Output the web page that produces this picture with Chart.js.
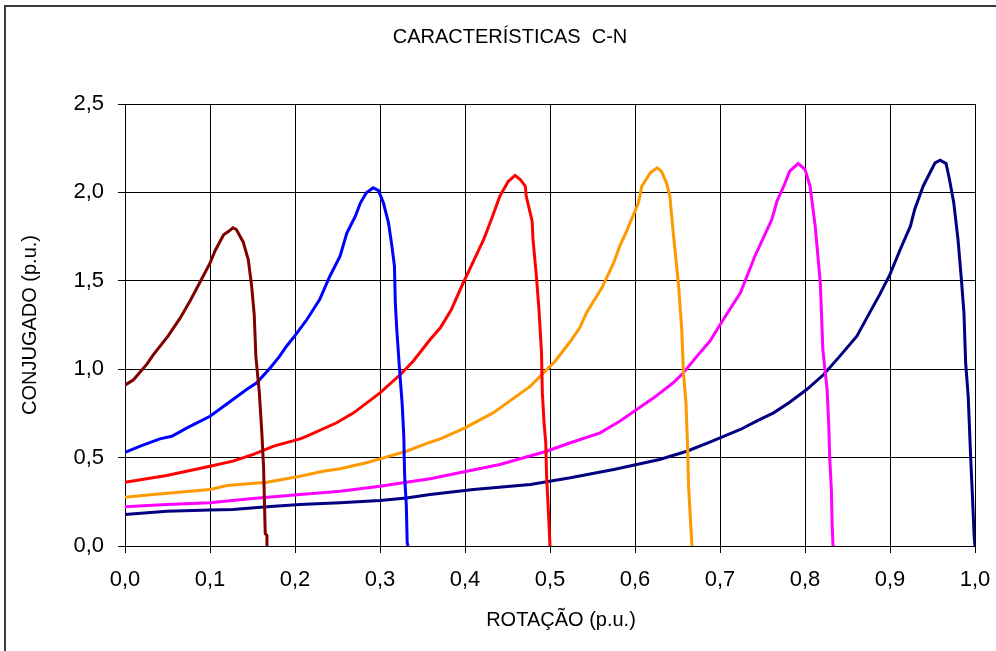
<!DOCTYPE html>
<html>
<head>
<meta charset="utf-8">
<title>Características C-N</title>
<script src="https://cdn.jsdelivr.net/npm/chart.js@4.4.1/dist/chart.umd.min.js"></script>
<style>
    html, body { margin: 0; padding: 0; background: #fff; overflow: hidden; }
    #frame {
        position: absolute; left: 4px; top: 5px;
        width: 1100px; height: 1000px;
        border: 2px solid #3c3c3c;
    }
    #chartCanvas { position: absolute; left: 0; top: 0; }
</style>
</head>
<body>
<div id="frame"></div>
<canvas id="chartCanvas" width="1020" height="651"></canvas>
<script>
const TITLE = 'CARACTERÍSTICAS  C-N';
const X_TITLE = 'ROTAÇÃO (p.u.)';
const Y_TITLE = 'CONJUGADO (p.u.)';

const xTicks = [0, 0.1, 0.2, 0.3, 0.4, 0.5, 0.6, 0.7, 0.8, 0.9, 1.0];
const yTicks = [0, 0.5, 1.0, 1.5, 2.0, 2.5];

// f = 1/6 of rated
const rot1 = [0, 0.010, 0.026, 0.033, 0.051, 0.065, 0.077, 0.088, 0.100, 0.106, 0.116, 0.122, 0.127, 0.131, 0.139, 0.145, 0.149, 0.152, 0.154, 0.158, 0.161, 0.163, 0.165, 0.167, 0.167];
const conj1 = [0.91, 0.94, 1.03, 1.08, 1.19, 1.29, 1.39, 1.49, 1.60, 1.67, 1.76, 1.78, 1.80, 1.79, 1.72, 1.62, 1.47, 1.31, 1.07, 0.87, 0.64, 0.45, 0.07, 0.06, 0];

// f = 2/6
const rot2 = [0, 0.018, 0.041, 0.055, 0.073, 0.100, 0.127, 0.143, 0.155, 0.171, 0.182, 0.190, 0.200, 0.214, 0.229, 0.241, 0.253, 0.261, 0.271, 0.277, 0.284, 0.292, 0.298, 0.304, 0.310, 0.314, 0.317, 0.318, 0.320, 0.323, 0.326, 0.328, 0.329, 0.331, 0.332, 0.333];
const conj2 = [0.53, 0.565, 0.606, 0.621, 0.668, 0.734, 0.829, 0.885, 0.923, 1.008, 1.074, 1.13, 1.19, 1.281, 1.394, 1.526, 1.639, 1.77, 1.865, 1.941, 1.998, 2.026, 2.012, 1.941, 1.828, 1.696, 1.583, 1.376, 1.206, 0.998, 0.81, 0.621, 0.395, 0.225, 0.018, 0];

// f = 3/6
const rot3 = [0, 0.049, 0.100, 0.127, 0.151, 0.175, 0.206, 0.214, 0.249, 0.269, 0.300, 0.324, 0.339, 0.359, 0.371, 0.384, 0.398, 0.410, 0.422, 0.431, 0.441, 0.451, 0.459, 0.465, 0.471, 0.472, 0.479, 0.480, 0.484, 0.487, 0.490, 0.491, 0.493, 0.495, 0.496, 0.498, 0.500];
const conj3 = [0.361, 0.399, 0.451, 0.48, 0.518, 0.565, 0.606, 0.621, 0.697, 0.753, 0.866, 0.97, 1.045, 1.168, 1.234, 1.338, 1.489, 1.611, 1.734, 1.847, 1.979, 2.063, 2.096, 2.073, 2.035, 1.979, 1.837, 1.734, 1.526, 1.338, 1.093, 0.866, 0.697, 0.584, 0.395, 0.206, 0];

// f = 4/6
const rot4 = [0, 0.033, 0.100, 0.120, 0.167, 0.206, 0.233, 0.253, 0.284, 0.300, 0.331, 0.359, 0.371, 0.400, 0.433, 0.477, 0.506, 0.524, 0.535, 0.543, 0.561, 0.575, 0.582, 0.590, 0.604, 0.608, 0.618, 0.626, 0.631, 0.637, 0.641, 0.645, 0.651, 0.655, 0.657, 0.660, 0.662, 0.663, 0.665, 0.667];
const conj4 = [0.276, 0.291, 0.32, 0.342, 0.361, 0.395, 0.423, 0.437, 0.471, 0.493, 0.536, 0.587, 0.606, 0.668, 0.753, 0.904, 1.045, 1.158, 1.234, 1.319, 1.46, 1.602, 1.696, 1.78, 1.941, 2.035, 2.111, 2.139, 2.12, 2.054, 1.979, 1.771, 1.489, 1.225, 0.98, 0.81, 0.546, 0.338, 0.169, 0];

// f = 5/6
const rot5 = [0, 0.049, 0.100, 0.147, 0.206, 0.253, 0.300, 0.331, 0.359, 0.402, 0.441, 0.469, 0.496, 0.524, 0.559, 0.582, 0.602, 0.622, 0.645, 0.657, 0.673, 0.688, 0.705, 0.724, 0.731, 0.741, 0.751, 0.761, 0.767, 0.775, 0.782, 0.792, 0.800, 0.806, 0.812, 0.818, 0.821, 0.826, 0.828, 0.829, 0.831, 0.832, 0.833];
const conj5 = [0.222, 0.235, 0.244, 0.267, 0.291, 0.31, 0.338, 0.361, 0.38, 0.423, 0.461, 0.499, 0.536, 0.584, 0.64, 0.706, 0.772, 0.838, 0.923, 0.98, 1.074, 1.158, 1.29, 1.432, 1.517, 1.639, 1.743, 1.847, 1.95, 2.035, 2.12, 2.163, 2.13, 2.035, 1.809, 1.489, 1.111, 0.885, 0.678, 0.508, 0.32, 0.112, 0];

// f = rated
const rot6 = [0, 0.049, 0.100, 0.127, 0.167, 0.206, 0.253, 0.300, 0.331, 0.359, 0.410, 0.477, 0.524, 0.575, 0.602, 0.629, 0.661, 0.688, 0.724, 0.743, 0.763, 0.782, 0.802, 0.822, 0.841, 0.861, 0.875, 0.888, 0.900, 0.912, 0.924, 0.929, 0.939, 0.947, 0.953, 0.959, 0.966, 0.970, 0.975, 0.980, 0.984, 0.987, 0.989, 0.992, 0.995, 0.997, 0.999, 1.000];
const conj6 = [0.178, 0.197, 0.203, 0.206, 0.222, 0.235, 0.244, 0.257, 0.272, 0.291, 0.32, 0.348, 0.386, 0.433, 0.461, 0.489, 0.536, 0.587, 0.659, 0.706, 0.753, 0.813, 0.885, 0.97, 1.074, 1.187, 1.31, 1.423, 1.536, 1.677, 1.809, 1.903, 2.035, 2.111, 2.167, 2.182, 2.163, 2.073, 1.941, 1.734, 1.507, 1.319, 1.036, 0.847, 0.489, 0.282, 0.055, 0];

const curves = [
    { rot: rot1, conj: conj1, color: '#800000' },
    { rot: rot2, conj: conj2, color: '#0000ff' },
    { rot: rot3, conj: conj3, color: '#ff0000' },
    { rot: rot4, conj: conj4, color: '#ff9900' },
    { rot: rot5, conj: conj5, color: '#ff00ff' },
    { rot: rot6, conj: conj6, color: '#000080' }
];

const FONT = "'Liberation Sans', Arial, sans-serif";
const comma = v => Number(v).toFixed(1).replace('.', ',');

// chart title centred on the whole canvas, x-axis title a bit right of the plot centre
const headerTitle = {
    id: 'headerTitle',
    afterDraw(chart) {
        const ctx = chart.ctx;
        const area = chart.chartArea;
        ctx.save();
        ctx.font = `20px ${FONT}`;
        ctx.fillStyle = '#000';
        ctx.textAlign = 'center';
        ctx.textBaseline = 'middle';
        ctx.fillText(TITLE, chart.width / 2, 37);
        ctx.fillText(X_TITLE, (area.left + area.right) / 2 + 11, 620);
        ctx.restore();
    }
};

new Chart(document.getElementById('chartCanvas'), {
    type: 'scatter',
    data: {
        datasets: curves.map(c => ({
            data: c.rot.map((x, i) => ({ x: x, y: c.conj[i] })),
            showLine: true,
            borderColor: c.color,
            backgroundColor: c.color,
            borderWidth: 3,
            pointRadius: 0,
            pointHoverRadius: 0,
            tension: 0
        }))
    },
    options: {
        responsive: false,
        animation: false,
        events: [],
        layout: { padding: { top: 104, right: 45, left: 0, bottom: 0 } },
        plugins: {
            legend: { display: false },
            tooltip: { enabled: false },
            title: { display: false }
        },
        scales: {
            x: {
                type: 'linear',
                min: 0, max: 1,
                afterBuildTicks: axis => { axis.ticks = xTicks.map(v => ({ value: v })); },
                afterFit: axis => { axis.height = 105; },
                ticks: {
                    callback: comma,
                    color: '#000',
                    font: { family: FONT, size: 22 },
                    padding: 14,
                    maxRotation: 0
                },
                grid: { color: '#000', lineWidth: 1, tickLength: 7, drawTicks: true },
                border: { color: '#000', width: 1 },
                title: { display: false }
            },
            y: {
                type: 'linear',
                min: 0, max: 2.5,
                afterBuildTicks: axis => { axis.ticks = yTicks.map(v => ({ value: v })); },
                afterFit: axis => { axis.width = 125; },
                ticks: {
                    callback: comma,
                    color: '#000',
                    font: { family: FONT, size: 22 },
                    padding: 14
                },
                grid: { color: '#000', lineWidth: 1, tickLength: 7, drawTicks: true },
                border: { color: '#000', width: 1 },
                title: {
                    display: true,
                    text: Y_TITLE,
                    color: '#000',
                    font: { family: FONT, size: 20 },
                    padding: { top: 18, bottom: 0 }
                }
            }
        }
    },
    plugins: [headerTitle]
});
</script>
</body>
</html>
